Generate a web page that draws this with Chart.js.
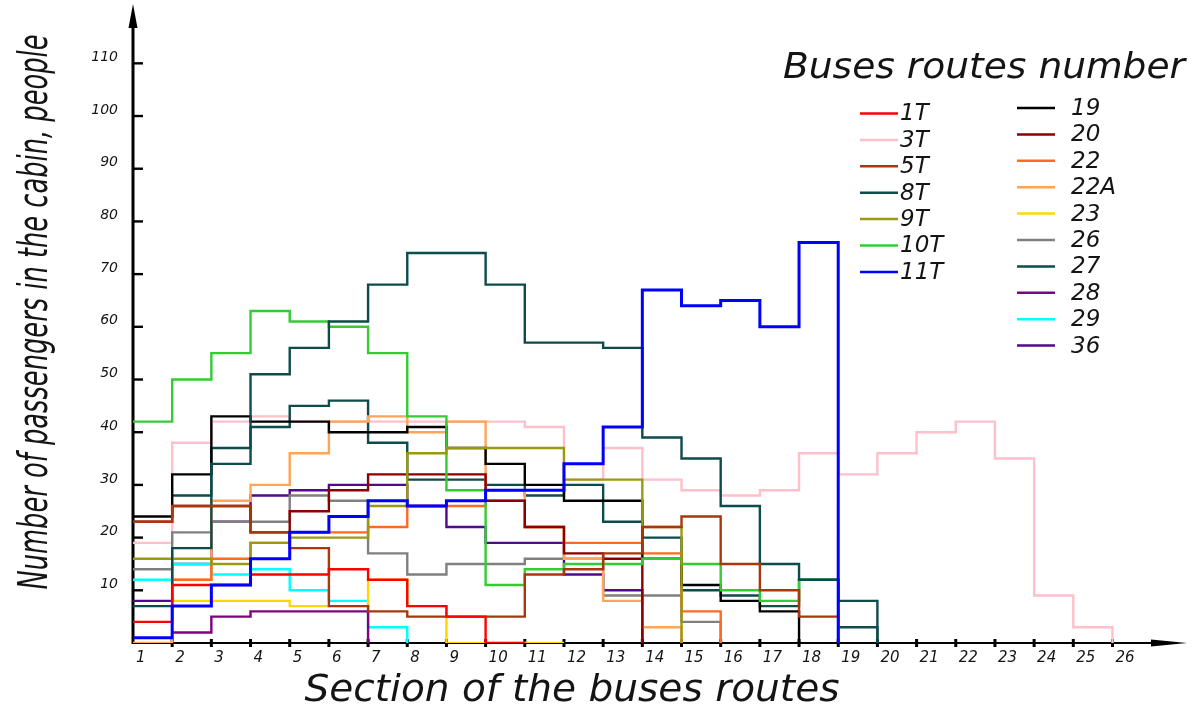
<!DOCTYPE html>
<html>
<head>
<meta charset="utf-8">
<script src="https://cdn.jsdelivr.net/npm/chart.js@4.4.1/dist/chart.umd.min.js"></script>
<style>
  html, body { margin: 0; padding: 0; background: #fff; }
</style>
</head>
<body>
<canvas id="chart-rotas" width="1197" height="708"></canvas>
<script>
// ─── Data: passengers per route section (one value per section) ──────────────
const SECTIONS = ['1','2','3','4','5','6','7','8','9','10','11','12','13','14','15','16','17','18','19','20','21','22','23','24','25','26'];
const Y_TICKS  = [10, 20, 30, 40, 50, 60, 70, 80, 90, 100, 110];

const R_1T  = [4, 11, 11, 13, 13, 14, 12, 7, 5, 0];
const R_3T  = [19, 38, 42, 43, 42, 42, 42, 42, 42, 42, 41, 31, 37, 31, 29, 28, 29, 36, 32, 36, 40, 42, 35, 9, 3];
const R_5T  = [23, 26, 26, 21, 18, 7, 6, 5, 5, 5, 13, 14, 17, 22, 24, 15, 10, 5];
const R_8T  = [7, 18, 34, 51, 56, 61, 68, 74, 74, 68, 57, 57, 56, 39, 35, 26, 15, 12, 8];
const R_9T  = [16, 16, 15, 19, 20, 20, 26, 36, 37, 37, 37, 31, 31, 22];
const R_10T = [42, 50, 55, 63, 61, 60, 55, 43, 29, 11, 14, 15, 15, 16, 15, 10, 8, 12];
const R_11T = [1, 7, 11, 16, 21, 24, 27, 26, 27, 29, 29, 34, 41, 67, 64, 65, 60, 76];
const R_19  = [24, 32, 43, 42, 42, 40, 40, 41, 37, 34, 30, 27, 27, 16, 11, 8, 6];
const R_20  = [23, 26, 26, 21, 25, 29, 32, 32, 32, 27, 22, 17, 16];
const R_22  = [null, 12, 16, 19, 21, 21, 22, 26, 26, 27, 22, 19, 19, 17, 6];
const R_22A = [0, 12, 27, 30, 36, 42, 43, 40, 42, 29, 22, 16, 8, 3];
const R_23  = [null, 8, 8, 8, 7, 7, 12, 7, 0, 0, 0];
const R_26  = [14, 21, 23, 23, 28, 27, 17, 13, 15, 15, 16, 16, 9, 9, 4];
const R_27  = [null, 28, 37, 41, 45, 46, 38, 31, 31, 30, 28, 30, 23, 20, 10, 9, 7, 12, 3];
const R_28  = [null, 2, 5, 6, 6, 6];
const R_29  = [12, 15, 13, 14, 10, 8, 3];
const R_36  = [8, 15, 23, 28, 29, 30, 30, 26, 22, 19, 19, 13, 10];

// ─── Series (label, values, colour) ───────────────────────────────────────────
const SERIES = [
  ['1T',  R_1T,  '#ff0000'],
  ['3T',  R_3T,  '#ffc0cb'],
  ['5T',  R_5T,  '#a8380c'],
  ['8T',  R_8T,  '#0e4b4b'],
  ['9T',  R_9T,  '#9a9a12'],
  ['10T', R_10T, '#33cc33'],
  ['11T', R_11T, '#0000ff'],
  ['19',  R_19,  '#000000'],
  ['20',  R_20,  '#8b0000'],
  ['22',  R_22,  '#ff6a22'],
  ['22A', R_22A, '#ffa555'],
  ['23',  R_23,  '#ffd700'],
  ['26',  R_26,  '#808080'],
  ['27',  R_27,  '#0e4b4b'],
  ['28',  R_28,  '#800080'],
  ['29',  R_29,  '#00ffff'],
  ['36',  R_36,  '#520a8c'],
];

const FONT = '"DejaVu Sans", "Liberation Sans", sans-serif';
const INK  = '#141414';

// ─── Helpers ──────────────────────────────────────────────────────────────────
// each section is a flat step from x=i to x=i+1, last one drops to the axis
function stepPoints(vals) {
  const pts = [];
  vals.forEach((v, i) => {
    if (v == null) { pts.push({ x: i, y: null }); return; }
    pts.push({ x: i, y: v }, { x: i + 1, y: v });
  });
  pts.push({ x: vals.length, y: 0 });
  return pts;
}

// text squeezed/stretched to a given width, optionally rotated
function fitText(ctx, txt, cx, cy, width, size, rot) {
  ctx.save();
  ctx.font = `italic ${size}px ${FONT}`;
  const w = ctx.measureText(txt).width;
  ctx.translate(cx, cy);
  if (rot) ctx.rotate(rot);
  ctx.scale(width / w, 1);
  ctx.textAlign = 'center';
  ctx.textBaseline = 'alphabetic';
  ctx.fillStyle = INK;
  ctx.fillText(txt, 0, 0);
  ctx.restore();
}

// no extra room for edge labels: the plot area is fixed by the padding
function semPadding(s) {
  s.paddingTop = 0; s.paddingBottom = 0; s.paddingLeft = 0; s.paddingRight = 0;
}

// ─── Axes with arrows and tick marks ─────────────────────────────────────────
const eixos = {
  id: 'eixos',
  beforeDatasetsDraw(chart) {
    const { ctx, chartArea: a, scales: { x, y } } = chart;
    ctx.save();
    ctx.strokeStyle = '#000';
    ctx.fillStyle = '#000';
    ctx.lineWidth = 3;
    ctx.beginPath(); ctx.moveTo(a.left, a.bottom + 1); ctx.lineTo(a.left, a.top + 14); ctx.stroke();
    ctx.beginPath(); ctx.moveTo(a.left, a.top - 4); ctx.lineTo(a.left - 4.5, a.top + 20); ctx.lineTo(a.left + 4.5, a.top + 20); ctx.closePath(); ctx.fill();
    ctx.lineWidth = 2.2;
    ctx.beginPath(); ctx.moveTo(a.left - 1, a.bottom); ctx.lineTo(a.right - 10, a.bottom); ctx.stroke();
    ctx.beginPath(); ctx.moveTo(a.right + 4, a.bottom); ctx.lineTo(a.right - 32, a.bottom - 3.5); ctx.lineTo(a.right - 32, a.bottom + 3.5); ctx.closePath(); ctx.fill();

    ctx.lineWidth = 3;
    for (let i = 1; i < SECTIONS.length; i++) {
      const px = x.getPixelForValue(i);
      ctx.beginPath(); ctx.moveTo(px, a.bottom - 4); ctx.lineTo(px, a.bottom + 4); ctx.stroke();
    }
    ctx.lineWidth = 2.4;
    Y_TICKS.forEach(v => {
      const py = y.getPixelForValue(v);
      ctx.beginPath(); ctx.moveTo(a.left, py); ctx.lineTo(a.left + 10, py); ctx.stroke();
    });
    ctx.restore();
  },
  afterDraw(chart) {
    const { ctx } = chart;
    fitText(ctx, 'Number of passengers in the cabin, people', 47, 312, 555, 40, -Math.PI / 2);
    fitText(ctx, 'Section of the buses routes', 572, 701, 535, 38);
    fitText(ctx, 'Buses routes number', 984, 78, 402, 36);

    // two-column legend
    ctx.save();
    ctx.font = `italic 23px ${FONT}`;
    ctx.textBaseline = 'middle';
    ctx.lineWidth = 2.5;
    chart.data.datasets.forEach((ds, i) => {
      const esq = i < 7;
      const row = esq ? i : i - 7;
      const ly  = esq ? 113.5 + row * 26.4 : 108 + row * 26.4;
      const x0  = esq ? 860 : 1017;
      ctx.strokeStyle = ds.borderColor;
      ctx.beginPath(); ctx.moveTo(x0, ly); ctx.lineTo(x0 + 38, ly); ctx.stroke();
      ctx.fillStyle = INK;
      ctx.fillText(ds.label, esq ? 900 : 1071, ly + 1);
    });
    ctx.restore();
  },
};

// ─── Chart ───────────────────────────────────────────────────────────────────
const datasets = SERIES.map(([label, vals, cor]) => ({
  label,
  data: stepPoints(vals),
  borderColor: cor,
  backgroundColor: cor,
  borderWidth: label === '11T' ? 3 : 2.4,
  pointRadius: 0,
  fill: false,
  tension: 0,
  spanGaps: false,
  order: label === '11T' ? 0 : (label === '3T' ? 2 : 1),
}));

new Chart(document.getElementById('chart-rotas'), {
  type: 'line',
  data: { datasets },
  plugins: [eixos],
  options: {
    responsive: false,
    animation: false,
    devicePixelRatio: 1,
    layout: { padding: { left: 0, right: 14, top: 8, bottom: 0 } },
    plugins: { legend: { display: false }, tooltip: { enabled: false } },
    scales: {
      x: {
        type: 'linear', min: 0, max: 26.8,
        border: { display: false },
        grid: { display: false, drawTicks: false },
        ticks: {
          stepSize: 1, includeBounds: false, autoSkip: false, maxRotation: 0,
          align: 'start', labelOffset: 3, padding: 6, color: INK,
          font: { family: FONT, size: 15, style: 'italic' },
          callback: v => (Number.isInteger(v) && v < SECTIONS.length) ? SECTIONS[v] : '',
        },
        afterFit: s => { s.height = 65; semPadding(s); },
      },
      y: {
        min: 0, max: 120.5,
        border: { display: false },
        grid: { display: false, drawTicks: false },
        ticks: {
          stepSize: 10, includeBounds: false, padding: 15, labelOffset: -6, color: INK,
          font: { family: FONT, size: 14, style: 'italic' },
          callback: v => Y_TICKS.includes(v) ? String(v) : '',
        },
        afterFit: s => { s.width = 133; semPadding(s); },
      },
    },
  },
});
</script>
</body>
</html>
